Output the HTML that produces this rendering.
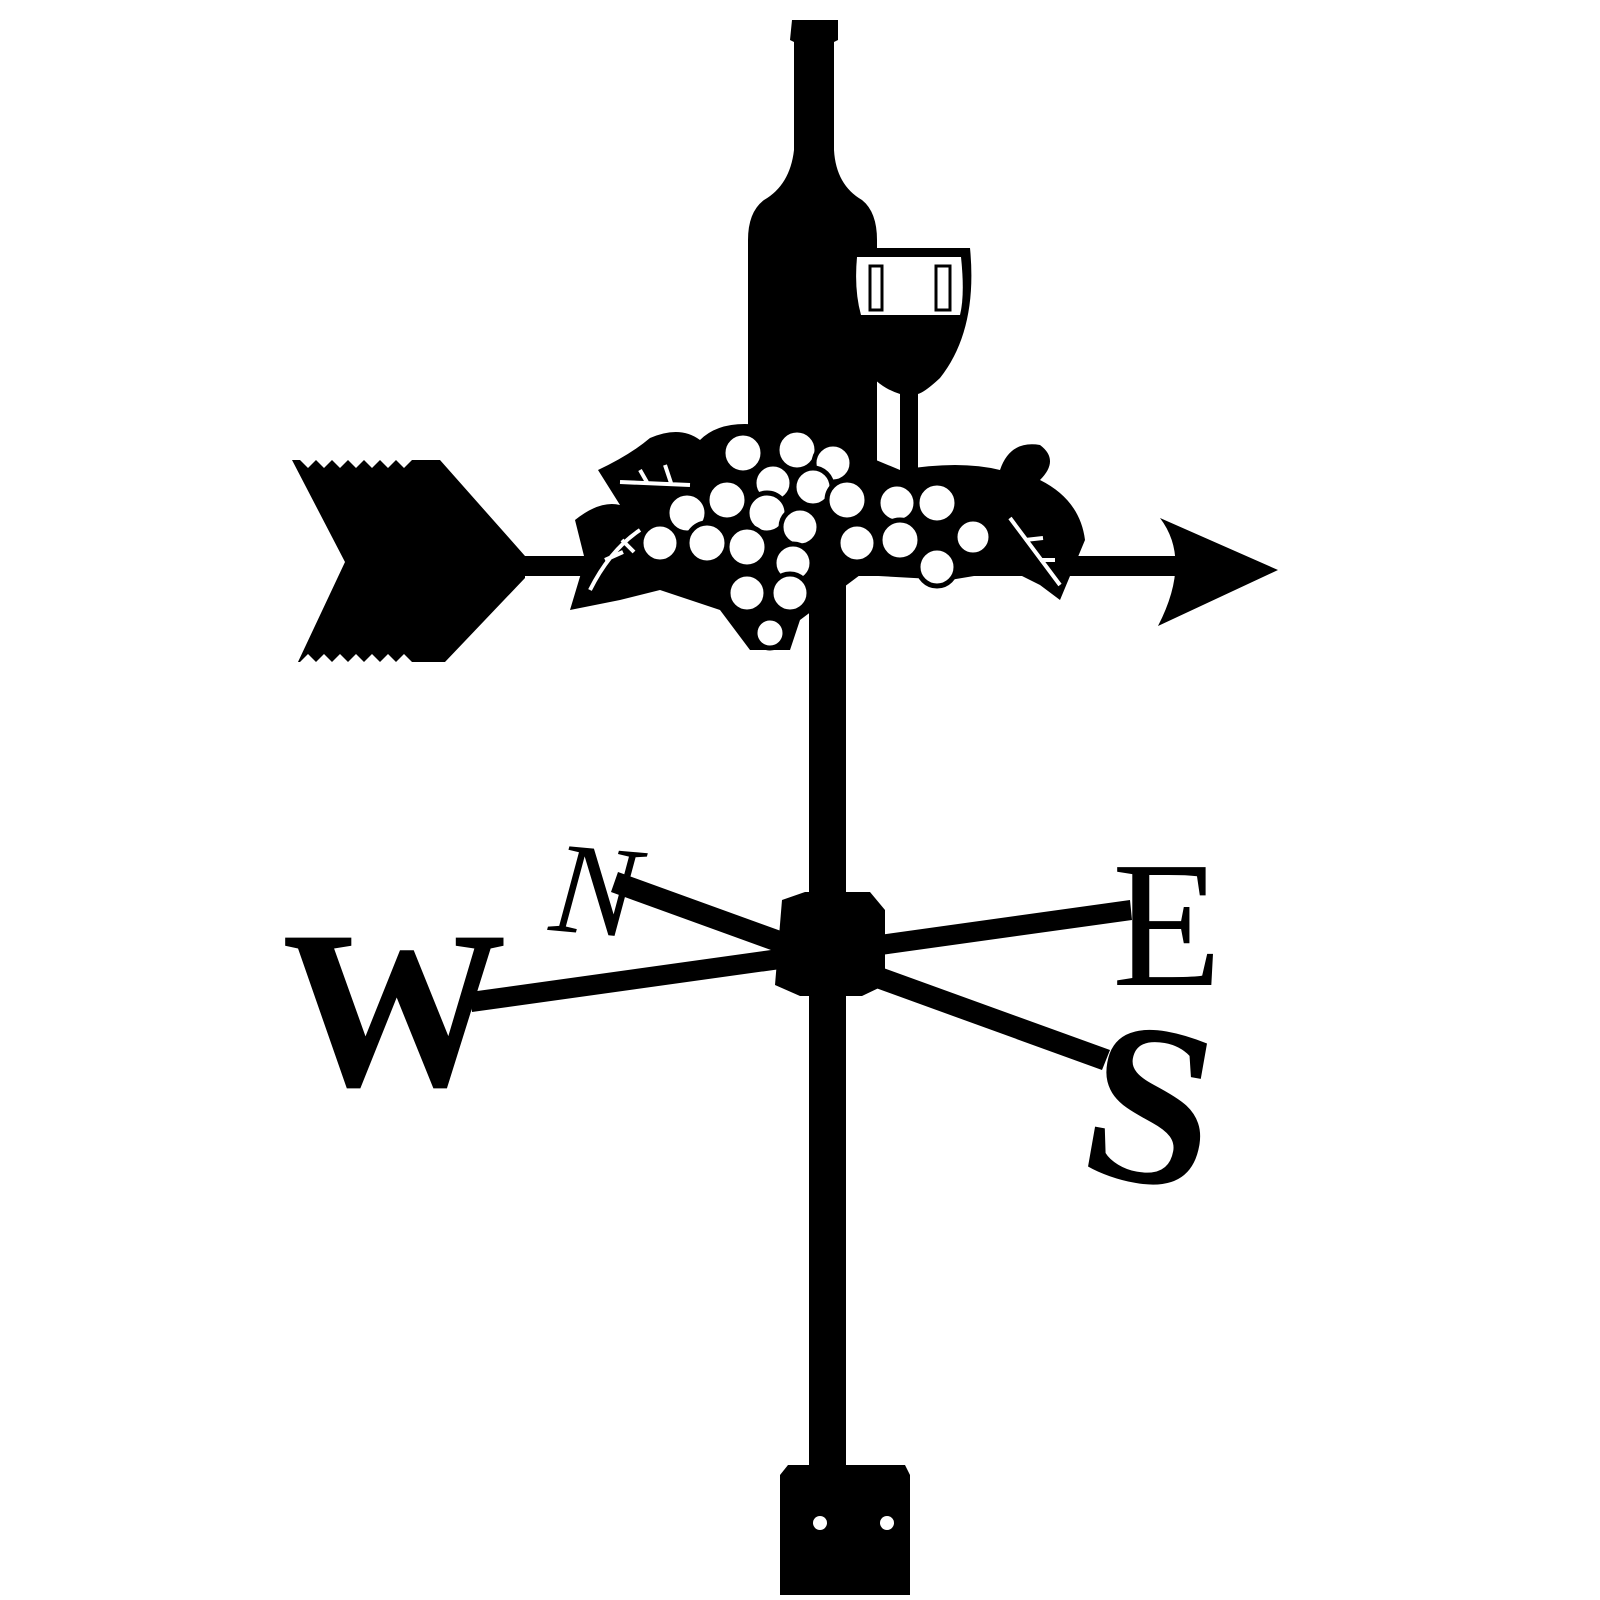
<!DOCTYPE html>
<html><head><style>html,body{margin:0;padding:0;background:#fff}svg{display:block}</style></head>
<body>
<svg width="1600" height="1600" viewBox="0 0 1600 1600" xmlns="http://www.w3.org/2000/svg">
<g fill="#000">
<!-- bottle -->
<path d="M792,20 L838,20 L838,40 L834,42 L834,150 Q836,185 862,200 Q877,212 877,240 L877,470 L748,470 L748,240 Q748,212 764,200 Q790,185 794,150 L794,42 L790,40 Z"/>
<!-- glass -->
<path d="M848,248 L970,248 Q978,330 940,378 Q925,392 918,394 L918,470 L900,470 L900,394 Q880,388 866,370 Q840,330 848,248 Z"/>
<path d="M857,257 L961,257 Q965,295 960,315 L861,315 Q854,290 857,257 Z" fill="#fff"/>
<path d="M870,266 L882,266 L882,310 L870,310 Z M936,266 L950,266 L950,310 L936,310 Z" fill="none" stroke="#000" stroke-width="3"/>
<!-- arrow shaft -->
<rect x="500" y="556" width="730" height="20"/>
<path d="M1278,570 L1160,518 Q1192,560 1158,626 Z"/>
<!-- tail -->
<path d="M292,460 L440,460 L525,556 L525,578 L445,662 L298,662 L345,562 Z"/>
<g fill="#fff"><path d="M300,460 l8,8 l8,-8 l8,8 l8,-8 l8,8 l8,-8 l8,8 l8,-8 l8,8 l8,-8 l8,8 l8,-8 l8,8 l8,-8 Z"/><path d="M300,662 l8,-8 l8,8 l8,-8 l8,8 l8,-8 l8,8 l8,-8 l8,8 l8,-8 l8,8 l8,-8 l8,8 l8,-8 l8,8 Z"/></g>
<!-- grape mass & leaves -->
<path d="M598,470 Q630,455 650,438 Q680,425 700,440 Q720,420 760,425 Q800,420 840,445 L900,470 Q960,460 1000,470 Q1010,440 1040,445 Q1060,460 1040,480 Q1080,500 1085,540 L1060,600 L1040,585 L1010,570 L950,580 L860,575 L800,620 L790,650 L750,650 L720,610 L660,590 L620,600 L570,610 L585,560 L575,520 Q600,500 620,505 Z"/>
<!-- pole -->
<rect x="809" y="570" width="37" height="900"/>
<path d="M788,1465 L905,1465 L910,1475 L910,1595 L780,1595 L780,1475 Z"/>
<!-- compass bars -->
<path d="M470,992 L1130,900 L1132,920 L472,1012 Z"/>
<path d="M618,872 L1110,1050 L1102,1070 L611,892 Z"/>
<path d="M782,900 L805,892 L870,892 L885,910 L885,985 L862,996 L800,996 L775,985 Z"/>
</g>
<!-- grapes -->
<g fill="#fff" stroke="#000" stroke-width="5">
<circle cx="743" cy="453" r="20"/><circle cx="797" cy="450" r="20"/><circle cx="833" cy="463" r="19"/>
<circle cx="727" cy="500" r="20"/><circle cx="773" cy="483" r="19"/><circle cx="813" cy="487" r="19"/>
<circle cx="687" cy="513" r="20"/><circle cx="767" cy="513" r="20"/><circle cx="847" cy="500" r="20"/>
<circle cx="897" cy="503" r="19"/><circle cx="937" cy="503" r="20"/>
<circle cx="660" cy="543" r="19"/><circle cx="707" cy="543" r="20"/><circle cx="747" cy="547" r="20"/>
<circle cx="800" cy="527" r="19"/><circle cx="857" cy="543" r="19"/><circle cx="900" cy="540" r="20"/>
<circle cx="973" cy="537" r="18"/><circle cx="793" cy="563" r="19"/><circle cx="937" cy="567" r="19"/>
<circle cx="747" cy="593" r="19"/><circle cx="790" cy="593" r="19"/><circle cx="770" cy="633" r="15"/>
</g>
<g fill="none" stroke="#fff" stroke-width="4">
<path d="M620,482 L690,485 M640,470 l8,14 M665,465 l6,18"/>
<path d="M590,590 Q610,550 640,530 M605,560 l18,-8 M622,540 l12,12"/>
<path d="M1010,518 L1060,585 M1025,540 l18,-2 M1040,560 l15,0"/>
</g>
<!-- letters -->
<g font-family="'Liberation Serif',serif" fill="#000">
<text x="282" y="1085" font-size="225" font-weight="bold">W</text>
<text x="0" y="0" font-size="130" font-style="italic" transform="translate(548,930) rotate(5)">N</text>
<text x="1112" y="985" font-size="180">E</text>
<text x="0" y="0" font-size="230" font-weight="bold" transform="translate(1075,1170) rotate(10)">S</text>
</g>
<g fill="#fff"><circle cx="820" cy="1523" r="7"/><circle cx="887" cy="1523" r="7"/></g>
</svg>
</body></html>
